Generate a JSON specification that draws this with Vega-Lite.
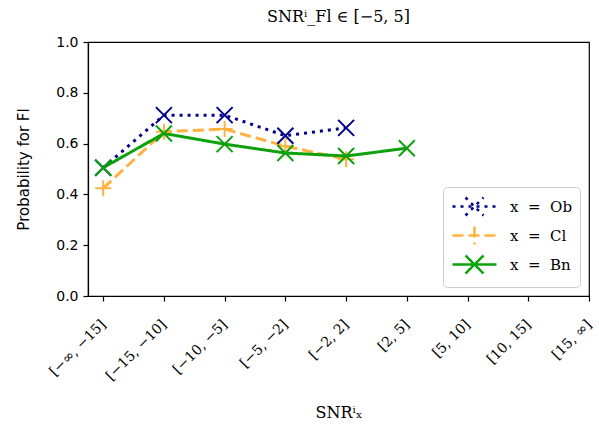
{
  "$schema": "https://vega.github.io/schema/vega-lite/v6.json",
  "width": 501,
  "height": 254,
  "autosize": {"type": "none"},
  "padding": {"left": 88, "top": 42, "right": 10, "bottom": 138},
  "background": "white",
  "title": {"text": "SNRⁱ_Fl ∈ [−5, 5]", "font": "DejaVu Serif", "fontSize": 16, "fontWeight": "normal", "color": "black", "offset": 10},
  "config": {
    "view": {"stroke": "black", "strokeWidth": 1.2},
    "axis": {"grid": false, "domainColor": "black", "tickColor": "black", "labelColor": "black", "titleColor": "black", "tickSize": 5, "domainWidth": 1.2, "tickWidth": 1.2}
  },
  "data": {"values": [
    {"idx": 0, "series": "Ob", "p": 0.505},
    {"idx": 1, "series": "Ob", "p": 0.712},
    {"idx": 2, "series": "Ob", "p": 0.712},
    {"idx": 3, "series": "Ob", "p": 0.631},
    {"idx": 4, "series": "Ob", "p": 0.662},
    {"idx": 0, "series": "Cl", "p": 0.424},
    {"idx": 1, "series": "Cl", "p": 0.647},
    {"idx": 2, "series": "Cl", "p": 0.657},
    {"idx": 3, "series": "Cl", "p": 0.59},
    {"idx": 4, "series": "Cl", "p": 0.538},
    {"idx": 0, "series": "Bn", "p": 0.505},
    {"idx": 1, "series": "Bn", "p": 0.64},
    {"idx": 2, "series": "Bn", "p": 0.598},
    {"idx": 3, "series": "Bn", "p": 0.563},
    {"idx": 4, "series": "Bn", "p": 0.551},
    {"idx": 5, "series": "Bn", "p": 0.582}
  ]},
  "encoding": {
    "x": {
      "field": "idx", "type": "quantitative",
      "scale": {"domain": [-0.25, 8], "nice": false, "zero": false},
      "axis": {
        "values": [0, 1, 2, 3, 4, 5, 6, 7, 8],
        "labelExpr": "['[−∞, −15]','[−15, −10]','[−10, −5]','[−5, −2]','[−2, 2]','[2, 5]','[5, 10]','[10, 15]','[15, ∞]'][datum.value]",
        "labelOverlap": false, "labelBound": false, "labelFlush": false,
        "labelAngle": -45, "labelAlign": "right", "labelBaseline": "middle",
        "labelFont": "DejaVu Serif", "labelFontSize": 14, "labelPadding": 21, "labelDx": 13, "labelDy": 11,
        "title": "SNRⁱₓ", "titleFont": "DejaVu Serif", "titleFontSize": 16, "titleFontWeight": "normal", "titlePadding": 22
      }
    },
    "y": {
      "field": "p", "type": "quantitative",
      "scale": {"domain": [0, 1], "nice": false},
      "axis": {
        "values": [0, 0.2, 0.4, 0.6, 0.8, 1.0], "format": ".1f",
        "labelFont": "DejaVu Sans", "labelFontSize": 14, "labelPadding": 5,
        "title": "Probability for Fl", "titleFont": "DejaVu Sans", "titleFontSize": 15, "titleFontWeight": "normal", "titlePadding": 24
      }
    },
    "color": {
      "field": "series", "type": "nominal",
      "scale": {"domain": ["Ob", "Cl", "Bn"], "range": ["#00008b", "#ffb23f", "#0da10d"]},
      "legend": {
        "title": null,
        "orient": "bottom-right",
        "offset": 9,
        "labelExpr": "'x\u00a0\u00a0=\u00a0\u00a0' + datum.label",
        "labelFont": "DejaVu Serif", "labelFontSize": 15, "labelColor": "black",
        "symbolType": "M-2.2,0H2.2M-0.9,-0.9L0.9,0.9M-0.9,0.9L0.9,-0.9",
        "symbolSize": 400,
        "symbolStrokeWidth": 2.5,
        "symbolOffset": 12,
        "labelOffset": 24,
        "rowPadding": 0,
        "padding": 8,
        "strokeColor": "#cccccc",
        "cornerRadius": 4,
        "fillColor": "white",
        "encode": {
          "symbols": {
            "update": {
              "shape": {"signal": "datum.value === 'Cl' ? 'M-2.2,0H2.2M0,-0.9V0.9' : 'M-2.2,0H2.2M-0.9,-0.9L0.9,0.9M-0.9,0.9L0.9,-0.9'"},
              "strokeDash": {"signal": "datum.value === 'Ob' ? [3,5] : (datum.value === 'Cl' ? [11,4] : [1,0])"}
            }
          }
        }
      }
    }
  },
  "layer": [
    {
      "mark": {"type": "line", "strokeWidth": 3},
      "encoding": {
        "strokeDash": {
          "field": "series", "type": "nominal",
          "scale": {"domain": ["Ob", "Cl", "Bn"], "range": [[3, 5], [11, 5], [1, 0]]},
          "legend": null
        }
      }
    },
    {
      "transform": [{"filter": "datum.series === 'Ob'"}],
      "mark": {"type": "point", "filled": false, "strokeWidth": 2, "opacity": 1, "size": 256, "shape": "M-1,-1L1,1M-1,1L1,-1"}
    },
    {
      "transform": [{"filter": "datum.series === 'Cl'"}],
      "mark": {"type": "point", "filled": false, "strokeWidth": 2, "opacity": 1, "size": 256, "shape": "M-1,0L1,0M0,-1L0,1"}
    },
    {
      "transform": [{"filter": "datum.series === 'Bn'"}],
      "mark": {"type": "point", "filled": false, "strokeWidth": 2, "opacity": 1, "size": 256, "shape": "M-1,-1L1,1M-1,1L1,-1"}
    }
  ]
}
